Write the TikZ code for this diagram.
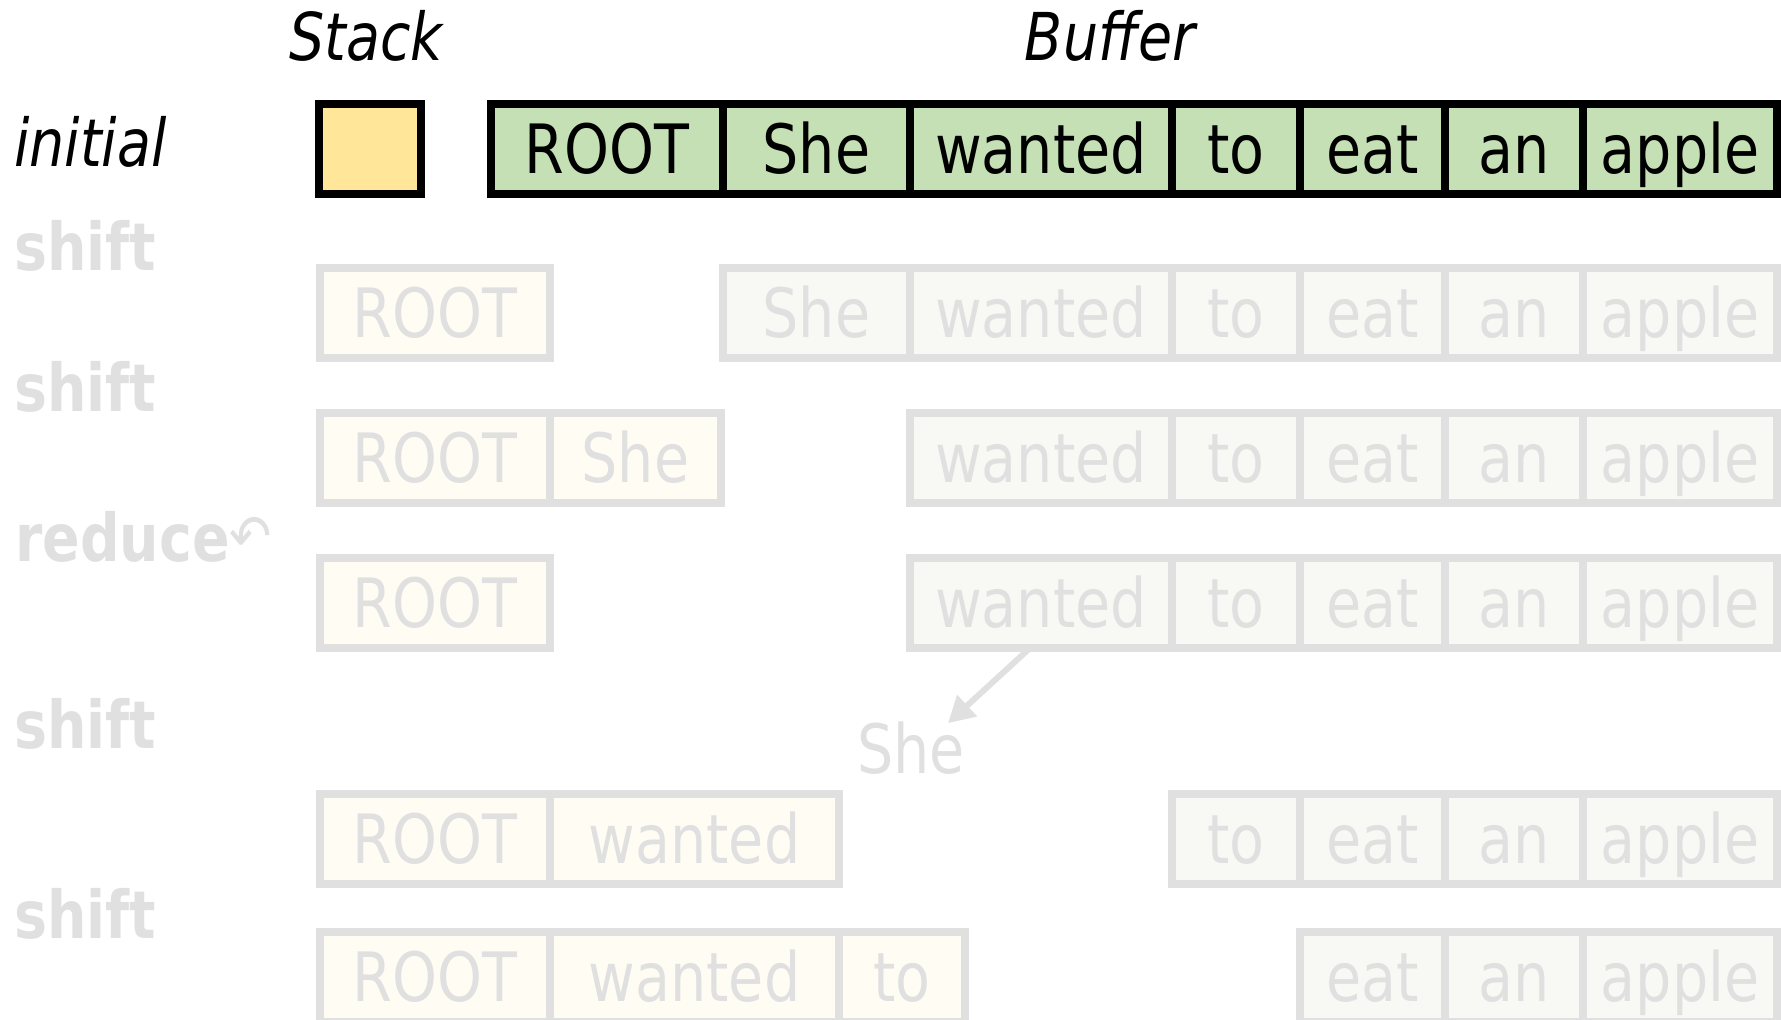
\documentclass[tikz,border=0pt]{standalone}
\usepackage{fontspec}
\setmainfont{DejaVu Sans}[FakeStretch=0.84,ItalicFont={DejaVu Sans Oblique},BoldFont={DejaVu Sans Bold}]
\usetikzlibrary{positioning,arrows.meta}
\definecolor{stackyel}{HTML}{FFE699}
\definecolor{buffgreen}{HTML}{C5E0B4}
\definecolor{fadegray}{HTML}{E0E0E0}
\definecolor{fadeyel}{HTML}{FFFCF3}
\definecolor{fadegreen}{HTML}{F8F9F5}
\newcommand{\bigtxt}{\fontsize{68}{80}\selectfont}
\newcommand{\headtxt}{\fontsize{66}{78}\selectfont}
\tikzset{
  cell/.style={draw, line width=8pt, inner sep=0pt, outer sep=0pt, minimum height=90pt,
    text height=49pt, text depth=0pt, anchor=west, font=\bigtxt},
  live/.style={cell, draw=black, text=black},
  faded/.style={cell, draw=fadegray, text=fadegray},
  steplab/.style={anchor=base west, inner sep=0pt, font=\headtxt\bfseries, text=fadegray},
  head/.style={anchor=base, inner sep=0pt, font=\headtxt\itshape}
}
\begin{document}
\begin{tikzpicture}[x=1pt,y=-1pt]
\useasboundingbox (0,0) rectangle (1781,1020);
% headers and transition names
\node[head] (stackhd) at (366,60) {Stack};
\node[head] (bufferhd) at (1110,60) {Buffer};
\node[head, anchor=base west] (initial) at (14,166) {initial};
\node[steplab] (shiftA) at (14,270) {shift};
\node[steplab] (shiftB) at (14,411) {shift};
\node[steplab] (reduce) at (15,561) {reduce{\mdseries\fontsize{60}{60}\selectfont\raisebox{4pt}{↶}}};
\node[steplab] (shiftC) at (14,748) {shift};
\node[steplab] (shiftD) at (14,938) {shift};
% initial configuration
\node[live, fill=stackyel, minimum width=102pt] (stk1) at (319,149) {};
\foreach \w/\x/\l [count=\i] in {ROOT/491/232, She/723/187, wanted/910/262, to/1172/128,
    eat/1300/145, an/1445/138, apple/1583/194} {
  \node[live, fill=buffgreen, minimum width=\l pt] (buf1-\i) at (\x,149) {\w};
}
% later configurations (faded), buffer keeps its columns
\foreach \r/\y/\s in {2/313/2, 3/458/3, 4/603/3, 5/839/4, 6/977/5} {
  \foreach \w/\x/\l [count=\i] in {ROOT/491/232, She/723/187, wanted/910/262, to/1172/128,
      eat/1300/145, an/1445/138, apple/1583/194} {
    \ifnum\i<\s\else
      \node[faded, fill=fadegreen, minimum width=\l pt] (buf\r-\i) at (\x,\y) {\w};
    \fi
  }
}
% stacks
\node[faded, fill=fadeyel, minimum width=230pt] (stk2-1) at (320,313) {ROOT};
\node[faded, fill=fadeyel, minimum width=230pt] (stk3-1) at (320,458) {ROOT};
\node[faded, fill=fadeyel, minimum width=171pt, right=0pt of stk3-1] (stk3-2) {She};
\node[faded, fill=fadeyel, minimum width=230pt] (stk4-1) at (320,603) {ROOT};
\node[faded, fill=fadeyel, minimum width=230pt] (stk5-1) at (320,839) {ROOT};
\node[faded, fill=fadeyel, minimum width=289pt, right=0pt of stk5-1] (stk5-2) {wanted};
\node[faded, fill=fadeyel, minimum width=230pt] (stk6-1) at (320,977) {ROOT};
\node[faded, fill=fadeyel, minimum width=289pt, right=0pt of stk6-1] (stk6-2) {wanted};
\node[faded, fill=fadeyel, minimum width=126pt, right=0pt of stk6-2] (stk6-3) {to};
% dependent attached by reduce
\node[anchor=base, inner sep=0pt, font=\bigtxt, text=fadegray] (she) at (911,773) {She};
\draw[fadegray, line width=6pt, -{Triangle[length=26pt,width=28pt]}]
  ([xshift=-11pt]buf4-3.south) -- ([xshift=37pt,yshift=-2pt]she.north);
\end{tikzpicture}
\end{document}
